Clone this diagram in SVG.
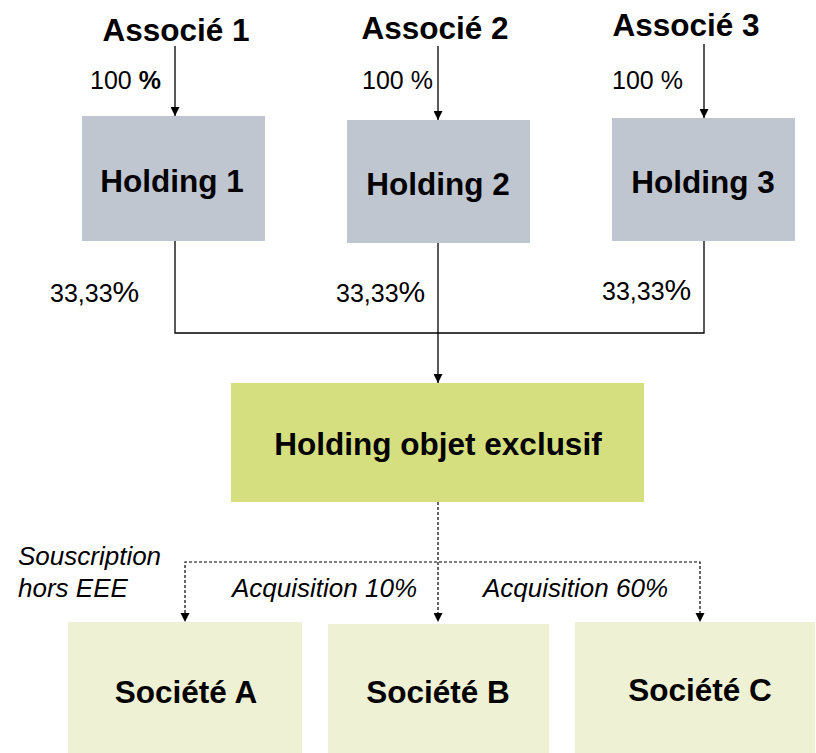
<svg xmlns="http://www.w3.org/2000/svg" width="816" height="753" viewBox="0 0 816 753">
  <style>
    .hold { fill: #c0c6d0; }
    .obj { fill: #d5df7f; }
    .soc { fill: #eef1d3; }
    .title { font-family: "Liberation Sans", Arial, sans-serif; font-weight: bold; font-size: 31.5px; fill: #000; text-anchor: middle; }
    .pct { font-family: "Liberation Sans", Arial, sans-serif; font-size: 25px; fill: #000; }
    .ital { font-family: "Liberation Sans", Arial, sans-serif; font-style: italic; font-size: 26px; fill: #000; }
    .solid { stroke: #000; stroke-width: 1.3; fill: none; }
    .dash { stroke: #000; stroke-width: 1.2; fill: none; stroke-dasharray: 3 2; }
  </style>
  <defs>
    <marker id="arrow" viewBox="0 0 10 10" refX="10" refY="5" markerWidth="9" markerHeight="9" markerUnits="userSpaceOnUse" orient="auto">
      <path d="M0,0 L10,5 L0,10 z" fill="#000"/>
    </marker>
  </defs>
  <rect width="816" height="753" fill="#fff"/>

  <!-- shareholders -->
  <g id="associe1"><text class="title" x="176" y="41">Associé 1</text></g>
  <g id="associe2"><text class="title" x="435" y="39">Associé 2</text></g>
  <g id="associe3"><text class="title" x="686" y="36">Associé 3</text></g>

  <!-- holdings -->
  <g id="holding1"><rect class="hold" x="82" y="116" width="183" height="125"/><text class="title" x="172" y="192">Holding 1</text></g>
  <g id="holding2"><rect class="hold" x="347" y="120" width="183" height="123"/><text class="title" x="438" y="195">Holding 2</text></g>
  <g id="holding3"><rect class="hold" x="612" y="118" width="183" height="123"/><text class="title" x="703" y="193">Holding 3</text></g>

  <g id="holding-objet"><rect class="obj" x="231" y="383" width="413" height="119"/><text class="title" x="438" y="455">Holding objet exclusif</text></g>

  <g id="societe-a"><rect class="soc" x="68" y="622" width="234" height="131"/><text class="title" x="186" y="703">Société A</text></g>
  <g id="societe-b"><rect class="soc" x="328" y="624" width="221" height="129"/><text class="title" x="438" y="703">Société B</text></g>
  <g id="societe-c"><rect class="soc" x="575" y="622" width="240" height="131"/><text class="title" x="700" y="701">Société C</text></g>

  <g id="connectors">
    <line class="solid" x1="175" y1="46" x2="175" y2="116" marker-end="url(#arrow)"/>
    <line class="solid" x1="438" y1="46" x2="438" y2="120" marker-end="url(#arrow)"/>
    <line class="solid" x1="704" y1="44" x2="704" y2="118" marker-end="url(#arrow)"/>
    <polyline class="solid" points="175,241 175,333 704,333 704,241"/>
    <line class="solid" x1="438" y1="243" x2="438" y2="383" marker-end="url(#arrow)"/>
    <line class="dash" x1="438" y1="502" x2="438" y2="622" marker-end="url(#arrow)"/>
    <polyline class="dash" points="185,613 185,562 700,562 700,613"/>
    <path d="M180.5,613 L189.5,613 L185,622 z" fill="#000"/>
    <path d="M695.5,613 L704.5,613 L700,622 z" fill="#000"/>
  </g>

  <g id="labels">
    <text class="pct" x="90" y="89">100 <tspan font-weight="bold">%</tspan></text>
    <text class="pct" x="362" y="89">100 %</text>
    <text class="pct" x="612" y="89">100 %</text>
    <text class="pct" x="50" y="302">33,33<tspan font-size="30">%</tspan></text>
    <text class="pct" x="336" y="302">33,33<tspan font-size="30">%</tspan></text>
    <text class="pct" x="602" y="300">33,33<tspan font-size="30">%</tspan></text>
    <text class="ital" x="18" y="565">Souscription</text>
    <text class="ital" x="18" y="597">hors EEE</text>
    <text class="ital" x="232" y="597">Acquisition 10%</text>
    <text class="ital" x="483" y="597">Acquisition 60%</text>
  </g>
</svg>
